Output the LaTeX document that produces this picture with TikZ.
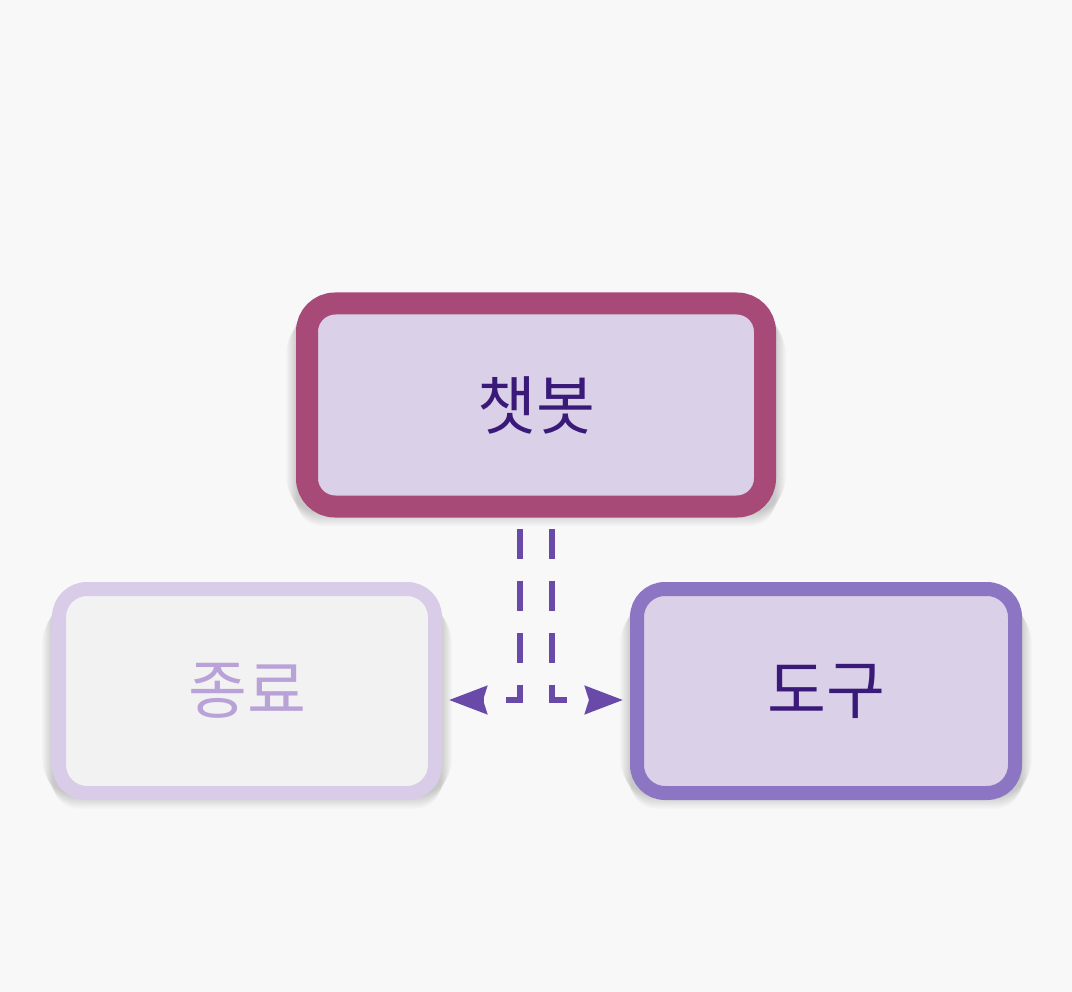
\documentclass[tikz,border=0pt]{standalone}
\usepackage{fontspec}
\newfontfamily\kr{Noto Sans CJK KR}
\usetikzlibrary{arrows.meta,backgrounds}
\definecolor{bgc}{HTML}{F8F8F8}
\definecolor{chatborder}{HTML}{A84A78}
\definecolor{boxfill}{HTML}{DAD0E8}
\definecolor{darktext}{HTML}{3A1A78}
\definecolor{paleborder}{HTML}{D8CCE8}
\definecolor{palefill}{HTML}{F2F2F2}
\definecolor{paletext}{HTML}{B8A2D8}
\definecolor{toolborder}{HTML}{8C76C4}
\definecolor{arrowc}{HTML}{6A4AA8}
\tikzset{
  boxbase/.style={rectangle, rounded corners=28pt, font=\kr\fontsize{64}{66}\selectfont},
  chatbox/.style={boxbase, draw=chatborder, line width=22pt, fill=boxfill, text=darktext,
    minimum width=458pt, minimum height=203pt},
  endbox/.style={boxbase, draw=paleborder, line width=14pt, fill=palefill, text=paletext,
    minimum width=376pt, minimum height=204pt},
  toolbox/.style={boxbase, draw=toolborder, line width=14pt, fill=boxfill, text=darktext,
    minimum width=378pt, minimum height=204pt},
  conn/.style={draw=arrowc, line width=6pt, dash pattern=on 30pt off 22pt,
    -{Stealth[length=38pt,width=28pt,inset=4pt]}}
}
\newcommand{\softshadow}[1]{%
  \foreach \i in {1,...,12}{%
    \fill[black, opacity=0.014, rounded corners={24pt+\i*1pt}]
      ([shift={(-\i*1pt+2pt,-\i*1.2pt-10pt)}]#1.north west) rectangle
      ([shift={(\i*1pt-2pt,\i*1.2pt-10pt)}]#1.south east);
  }}
\begin{document}
\begin{tikzpicture}[x=1pt,y=-1pt]
\useasboundingbox (0,0) rectangle (1072,992);
\node[chatbox] (chat) at (536,405) {챗봇};
\node[endbox] (end) at (247,691) {종료};
\node[toolbox] (tool) at (826,691) {도구};
\begin{pgfonlayer}{background}
\fill[bgc] (0,0) rectangle (1072,992);
\softshadow{chat}
\softshadow{end}
\softshadow{tool}
\end{pgfonlayer}
\draw[conn, shorten >=7pt] ([xshift=-16pt,yshift=-11pt]chat.south) |- ([yshift=-9pt]end.east);
\draw[conn, shorten >=7pt] ([xshift=16pt,yshift=-11pt]chat.south) |- ([yshift=-9pt]tool.west);
\end{tikzpicture}
\end{document}
